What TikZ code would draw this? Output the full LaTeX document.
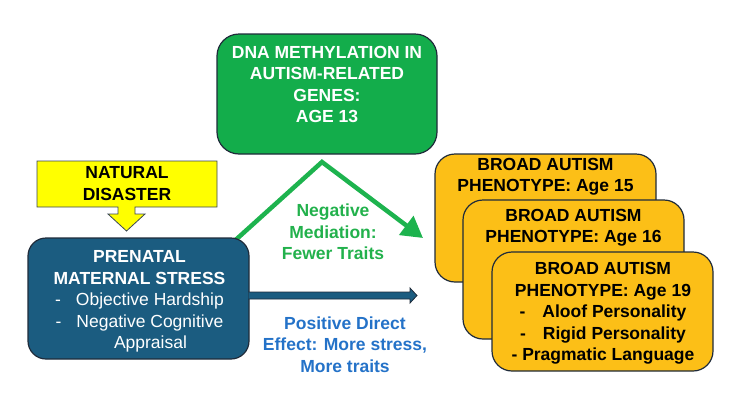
\documentclass[tikz,border=0pt]{standalone}
\usepackage{fontspec}
\setmainfont{Liberation Sans}
\usetikzlibrary{arrows.meta,calc}
\definecolor{pmsblue}{HTML}{1B5C80}
\definecolor{dnagreen}{HTML}{13AD4B}
\definecolor{bapor}{HTML}{FCBF17}
\definecolor{edgecol}{HTML}{1F2B3A}
\definecolor{arrgreen}{HTML}{1DB34E}
\definecolor{lblgreen}{HTML}{22B14C}
\definecolor{lblblue}{HTML}{2472C8}
\definecolor{ndyellow}{HTML}{FFFF00}
\definecolor{ndedge}{HTML}{3A4655}
\begin{document}
\begin{tikzpicture}[x=1pt,y=-1pt,
  txt/.style={font=\fontsize{17.5}{21.5}\selectfont\bfseries, align=center, inner sep=0pt},
  boxstyle/.style={draw=edgecol, line width=1.2pt, inner sep=0pt},
  pmsbox/.style={boxstyle, fill=pmsblue, rounded corners=18pt, minimum width=221pt, minimum height=121pt},
  dnabox/.style={boxstyle, fill=dnagreen, rounded corners=22pt, minimum width=220pt, minimum height=120pt},
  bapbox/.style={boxstyle, fill=bapor, rounded corners=20pt, minimum width=221pt},
  garrow/.style={draw=arrgreen, line width=4.5pt, line join=miter, -{Triangle[length=21pt,width=23pt]}},
  barrow/.style={draw=edgecol, fill=pmsblue, line width=0.8pt, line join=miter},
  ndstyle/.style={draw=ndedge, fill=ndyellow, line width=0.8pt}]
\useasboundingbox (0,0) rectangle (745,413);

% green mediation arrow (drawn first, start hidden under the stress box)
\coordinate (gstart) at (230,245);
\coordinate (apex) at (322,162);
\coordinate (gtip) at (423,238);
\draw[garrow] (gstart) -- (apex) -- (gtip);

% natural disaster callout
\draw[ndstyle] (37,161) -- (217,161) -- (217,207) -- (135,207) -- (135,214) -- (145,214)
  -- (126.5,231) -- (108,214) -- (118,214) -- (118,207) -- (37,207) -- cycle;
\node[txt] (nd) at (127,183.5) {NATURAL\\DISASTER};

% prenatal maternal stress
\node[pmsbox] (pms) at (138.5,298.5) {};
\node[txt, text=white] (pmstxt) at (139.5,301.4) {PRENATAL\\MATERNAL STRESS\\
  \mdseries -\hspace{15pt}Objective Hardship\\
  \mdseries -\hspace{15pt}Negative Cognitive\\
  \mdseries \hspace{22pt}Appraisal};

% DNA methylation
\node[dnabox] (dna) at (327,94) {};
\node[txt, text=white] (dnatxt) at (327,84.5) {DNA METHYLATION IN\\AUTISM-RELATED\\GENES:\\AGE 13};

% direct effect arrow
\coordinate (dtip) at (417,295.5);
\draw[barrow] ($([xshift=-1pt]pms.east|-dtip)+(0,-3.5)$) -- ($(dtip)+(-7,-3.5)$) -- ($(dtip)+(-7,-7.5)$)
  -- (dtip) -- ($(dtip)+(-7,7.5)$) -- ($(dtip)+(-7,3.5)$) -- ($([xshift=-1pt]pms.east|-dtip)+(0,3.5)$);

% labels
\node[txt, text=lblgreen] (medlbl) at (333,232) {Negative\\Mediation:\\Fewer Traits};
\node[txt, text=lblblue] (dirlbl) at (345,344.5) {Positive Direct\\Effect: More stress,\\More traits};

% broad autism phenotype boxes (only the visible lines of the covered boxes)
\node[bapbox, minimum height=128pt] (bap1) at (545.5,218) {};
\node[txt] (bap1txt) at (545.5,176.5) {BROAD AUTISM\\PHENOTYPE: Age 15};
\node[bapbox, minimum height=139pt] (bap2) at (573.5,269.5) {};
\node[txt] (bap2txt) at (573.5,227.8) {BROAD AUTISM\\PHENOTYPE: Age 16};
\node[bapbox, minimum height=119pt] (bap3) at (602.5,311.5) {};
\node[txt] (bap3txt) at (603,313.4) {BROAD AUTISM\\PHENOTYPE: Age 19\\-\hspace{17pt}Aloof Personality\\-\hspace{17pt}Rigid Personality\\- Pragmatic Language};
\end{tikzpicture}
\end{document}
